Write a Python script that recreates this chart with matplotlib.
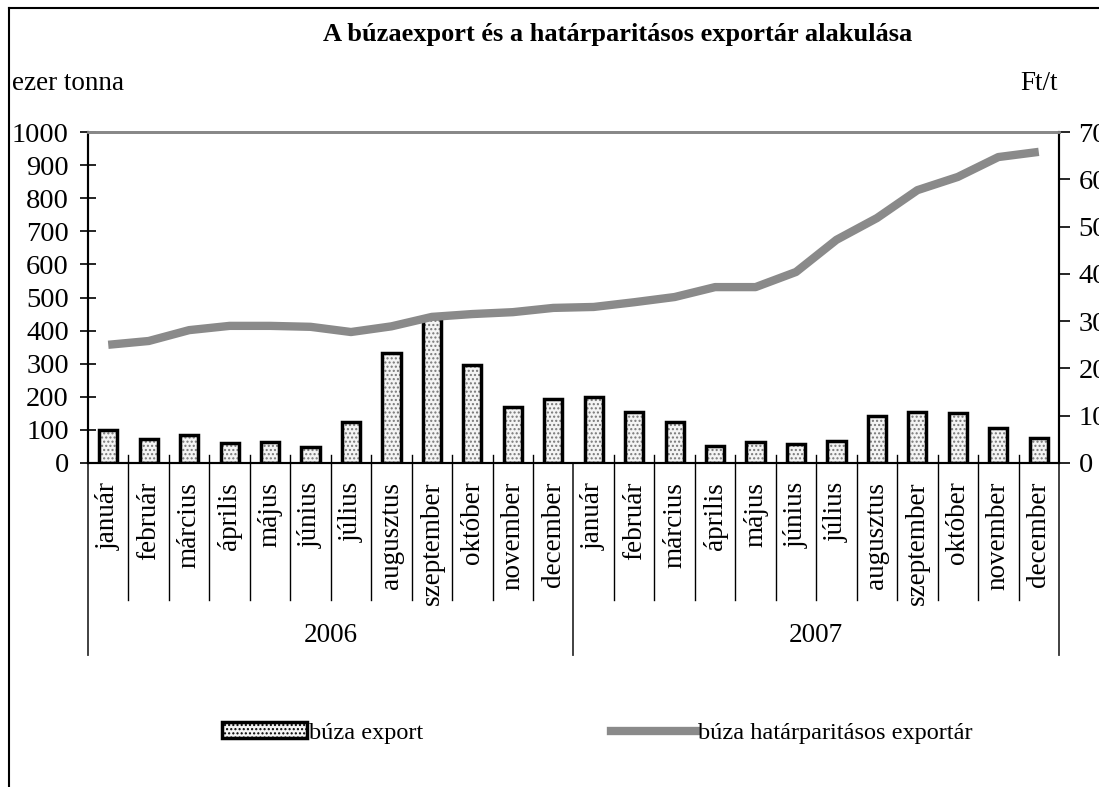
import matplotlib
matplotlib.use('Agg')
import matplotlib.pyplot as plt
from matplotlib.lines import Line2D
from matplotlib.patches import Patch
import matplotlib.transforms as mtransforms

plt.rcParams['font.family'] = ['Liberation Serif', 'DejaVu Serif']
plt.rcParams['hatch.color'] = '#555555'
plt.rcParams['hatch.linewidth'] = 1.0

# data
months = ['január', 'február', 'március', 'április', 'május', 'június',
          'július', 'augusztus', 'szeptember', 'október', 'november', 'december']
years = ['2006', '2007']
export_kt = [101, 71, 85, 61, 63, 47, 124, 331, 438, 296, 170, 193,
             198, 154, 125, 51, 64, 56, 66, 143, 154, 152, 105, 75]
price_ft = [25000, 25800, 28100, 29000, 29000, 28800, 27700, 28900, 30900, 31500, 31900, 32800,
            33000, 34000, 35100, 37200, 37200, 40400, 47200, 51800, 57700, 60500, 64700, 65800]
left_ticks = list(range(0, 1001, 100))
right_ticks = list(range(0, 70001, 10000))

labels = months * len(years)
x = list(range(len(labels)))

fig = plt.figure(figsize=(10.99, 7.87), dpi=100)
ax = fig.add_axes([88 / 1099, 1 - 463 / 787, (1059 - 88) / 1099, (463 - 132) / 787])
ax2 = ax.twinx()

# bars: dotted fill, then black outline on top
ax.bar(x, export_kt, width=0.45, color='#f4f4f4', hatch='....', edgecolor='#777777', linewidth=0)
ax.bar(x, export_kt, width=0.45, fill=False, edgecolor='black', linewidth=2.5)
ax2.plot(x, price_ft, color='#8a8a8a', linewidth=6, solid_capstyle='butt')

ax.set_xlim(-0.5, len(x) - 0.5)
ax.set_ylim(0, 1000)
ax.set_yticks(left_ticks)
ax2.set_ylim(0, 70000)
ax2.set_yticks(right_ticks)
ax2.set_yticklabels([str(v) for v in right_ticks])

ax.set_xticks(x)
ax.set_xticklabels(labels, rotation=90, va='top', ha='center', fontsize=19.5)
ax.tick_params(axis='x', length=0, pad=13.5)
ax.tick_params(axis='y', direction='inout', length=11.5, width=1.2, labelsize=20.5, pad=8)
ax2.tick_params(axis='y', direction='out', length=8, width=1.2, labelsize=20.5, pad=6)

for a in (ax, ax2):
    a.spines['top'].set_color('#888888')
    a.spines['top'].set_linewidth(2)
    a.spines['left'].set_linewidth(1.5)
    a.spines['right'].set_linewidth(1.5)
    a.spines['bottom'].set_linewidth(1.5)

# category separators below the axis
trans = mtransforms.blended_transform_factory(ax.transData, ax.transAxes)
for i in range(1, len(x)):
    xb = i - 0.5
    if i % 12 == 0:
        continue
    ax.plot([xb, xb], [0.024, -0.414], color='black', lw=1, transform=trans, clip_on=False)
for k in range(len(years) + 1):
    xb = k * 12 - 0.5
    ax.plot([xb, xb], [0, -0.58], color='#333333', lw=1.3, transform=trans, clip_on=False)
for k, yr in enumerate(years):
    ax.text(k * 12 + 5.5, -0.52, yr, transform=trans, ha='center', va='center', fontsize=19.5)

fig.text(618 / 1099, 1 - 34 / 787, 'A búzaexport és a határparitásos exportár alakulása',
         ha='center', va='center', fontsize=19, fontweight='bold')
fig.text(12 / 1099, 1 - 84 / 787, 'ezer tonna', ha='left', va='center', fontsize=19.5)
fig.text(1020 / 1099, 1 - 84 / 787, 'Ft/t', ha='left', va='center', fontsize=19.5)

# outer frame (only left and top visible)
fig.add_artist(Line2D([9 / 1099, 9 / 1099], [0, 1 - 8 / 787], color='black', lw=1.5))
fig.add_artist(Line2D([9 / 1099, 1], [1 - 8 / 787, 1 - 8 / 787], color='black', lw=1.5))

handles = [Patch(facecolor='#f4f4f4', edgecolor='black', hatch='....', linewidth=2.5),
           Line2D([], [], color='#8a8a8a', linewidth=6)]
fig.legend(handles, ['búza export', 'búza határparitásos exportár'], loc='center left',
           bbox_to_anchor=(200 / 1099, 1 - 733 / 787), ncol=2, frameon=False, fontsize=17.5,
           handlelength=3.5, handleheight=0.6, handletextpad=0.1, columnspacing=7.7)

fig.savefig('out.png', dpi=100)
